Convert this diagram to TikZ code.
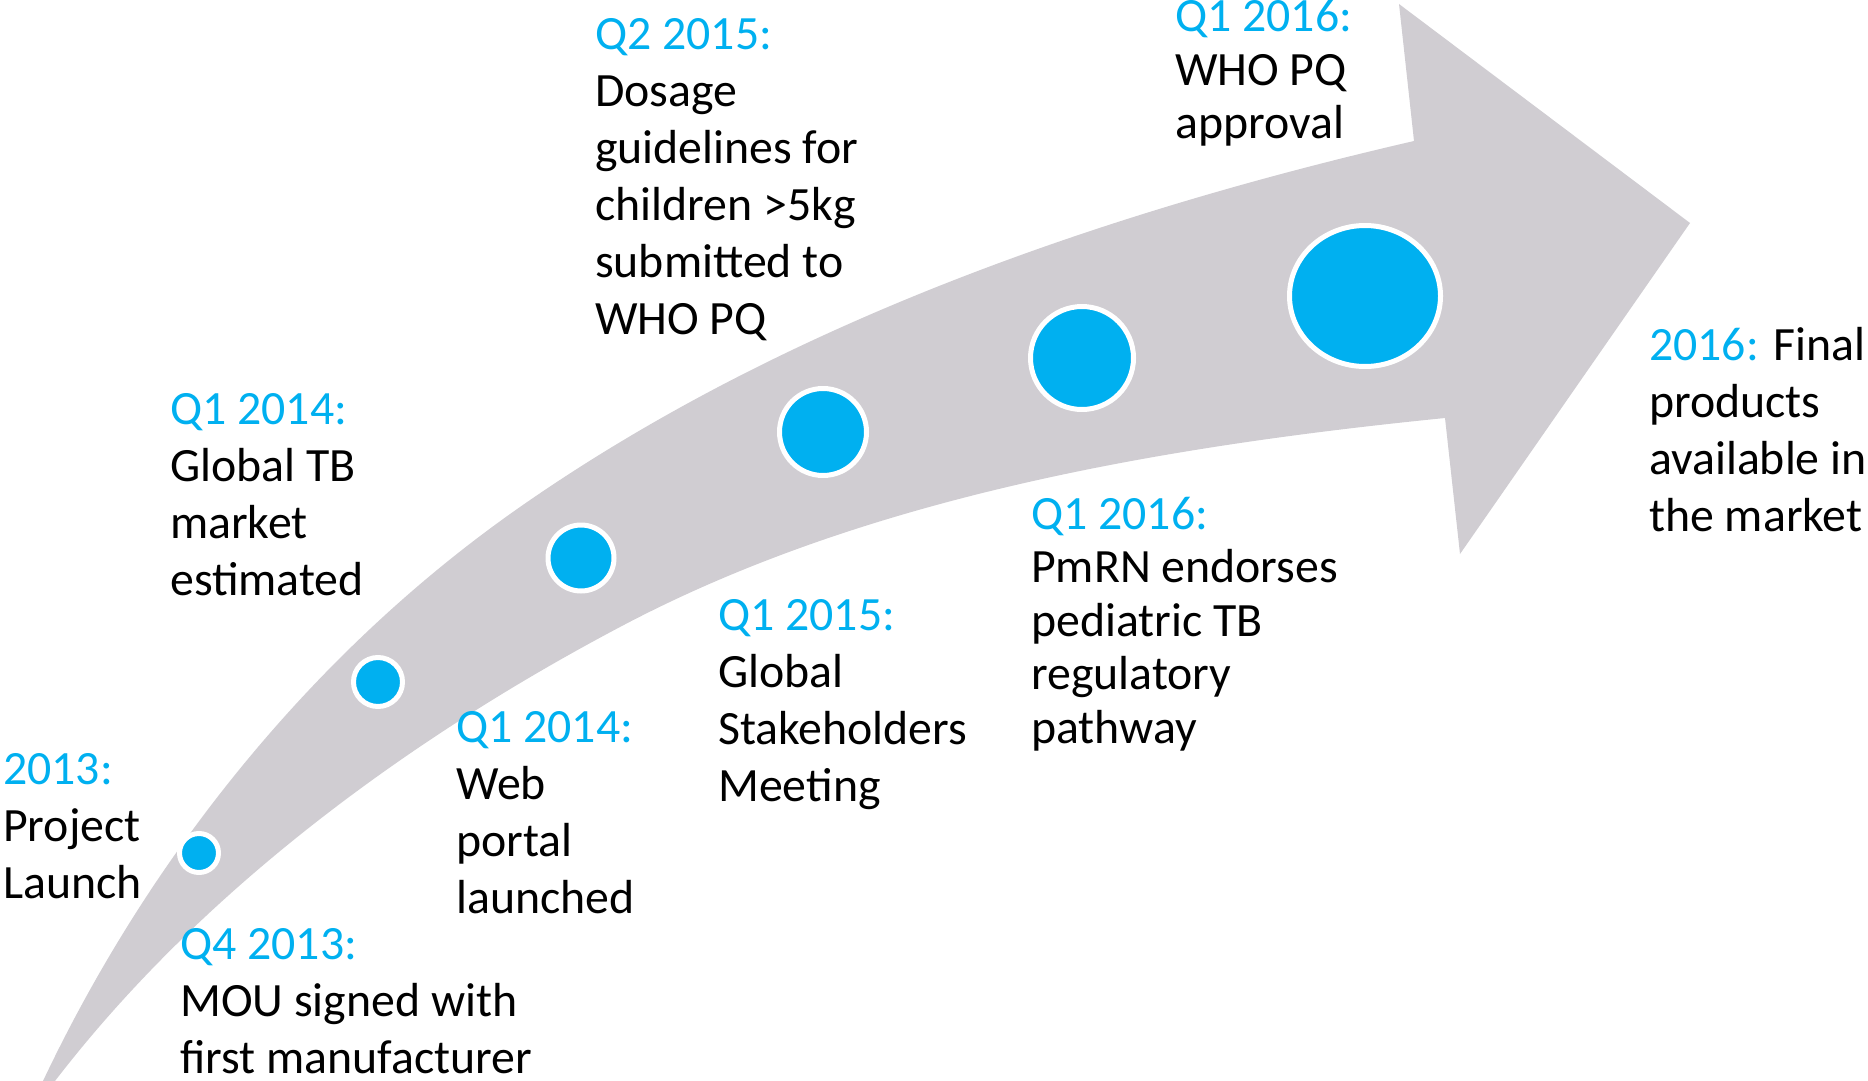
\documentclass[tikz,border=0pt]{standalone}
\usepackage{fontspec}
\setmainfont{Carlito}
\usetikzlibrary{shapes.geometric}
\definecolor{tlblue}{HTML}{00B0F0}
\definecolor{tlgray}{HTML}{D0CDD2}
\newcommand\yr[1]{\textcolor{tlblue}{#1}}
\newcommand\stk[1]{\begin{tabular}[t]{@{}l@{}}#1\end{tabular}}
\tikzset{
  milestone/.style={circle, fill=tlblue, draw=white, line width=5pt, inner sep=0pt},
  evtext/.style={anchor=base west, inner sep=0pt, font=\fontsize{47.8}{57}\selectfont},
  evtight/.style={evtext, font=\fontsize{47.8}{53.5}\selectfont}
}
\begin{document}
\begin{tikzpicture}[x=1pt, y=-1pt]
\useasboundingbox (0,0) rectangle (1868,1081);
% curved arrow
\coordinate (tailA) at (43,1081);
\coordinate (upMid) at (520,507);
\coordinate (notchU) at (1414,141);
\coordinate (headTop) at (1399,4);
\coordinate (headTip) at (1690,223);
\coordinate (headBot) at (1460,554);
\coordinate (notchL) at (1445,418);
\coordinate (lowMid) at (620,627);
\coordinate (tailB) at (55,1081);
\fill[tlgray] (tailA)
  .. controls (150,855) and (315,650) .. (upMid)
  .. controls (782,324) and (1102,213) .. (notchU)
  -- (headTop) -- (headTip) -- (headBot) -- (notchL)
  .. controls (1166,446) and (867,496) .. (lowMid)
  .. controls (408,739) and (201,891) .. (tailB) -- cycle;
% milestones
\node[milestone, minimum size=39pt] (m1) at (199,853) {};
\node[milestone, minimum size=49pt] (m2) at (378,682) {};
\node[milestone, minimum size=66pt] (m3) at (581,558) {};
\node[milestone, minimum size=87pt] (m4) at (823,432) {};
\node[milestone, minimum size=103pt] (m5) at (1082,358) {};
\node[milestone, shape=ellipse, minimum width=151pt, minimum height=141pt] (m6) at (1365,296) {};
% texts
\node[evtext] (t1) at (3,784) {\stk{\yr{2013:}\\Project\\Launch}};
\node[evtext] (t2) at (180,959) {\stk{\yr{Q4 2013:}\\MOU signed with\\first manufacturer}};
\node[evtext] (t3) at (170,424) {\stk{\yr{Q1 2014:}\\Global TB\\market\\estimated}};
\node[evtext] (t4) at (456,742) {\stk{\yr{Q1 2014:}\\Web\\portal\\launched}};
\node[evtext] (t5) at (595,49) {\stk{\yr{Q2 2015:}\\Dosage\\guidelines for\\children >5kg\\submitted to\\WHO PQ}};
\node[evtext] (t6) at (718,630) {\stk{\yr{Q1 2015:}\\Global\\Stakeholders\\Meeting}};
\node[evtight] (t7) at (1175,32) {\stk{\yr{Q1 2016:}\\WHO PQ\\approval}};
\node[evtight] (t8) at (1031,529) {\stk{\yr{Q1 2016:}\\PmRN endorses\\pediatric TB\\regulatory\\pathway}};
\node[evtext] (t9) at (1649,360) {\stk{\yr{2016:} Final\\products\\available in\\the market}};
\end{tikzpicture}
\end{document}
